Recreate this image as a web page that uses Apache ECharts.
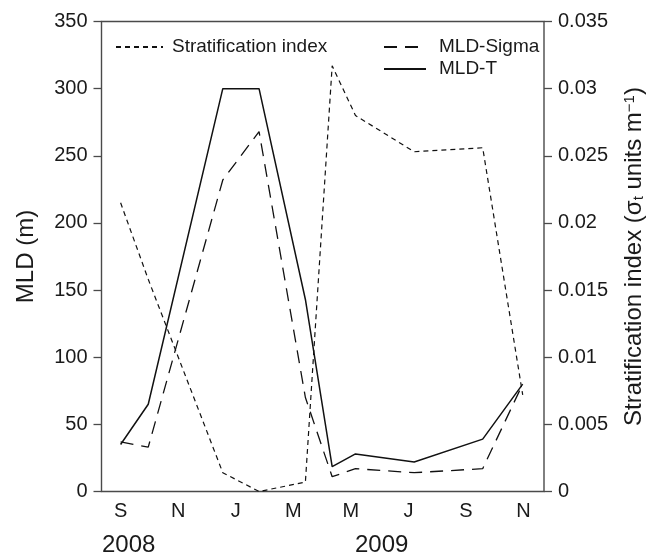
<!DOCTYPE html>
<html>
<head>
<meta charset="utf-8">
<style>
  html, body { margin: 0; padding: 0; background: #fff; }
  #chart { width: 654px; height: 557px; }
</style>
<script src="https://cdn.jsdelivr.net/npm/echarts@6/dist/echarts.min.js"></script>
</head>
<body>
<div id="chart"></div>
<script>
// Sample times in months since Jan 2008 (8 = Sep 2008, 12 = Jan 2009, ...)
const sampleMonths = [8.0, 8.96, 11.55, 12.81, 14.42, 15.35, 16.16, 18.2, 20.58, 21.97];
// Mixed layer depth (m)
const mldT     = [35, 65, 300, 300, 143, 18.5, 28, 22, 39, 80];
const mldSigma = [37, 33, 232, 268, 70, 11, 17, 14, 17, 80];
// Stratification index (sigma_t units m^-1)
const stratIndex = [0.0215, 0.0158, 0.0014, 0.0000, 0.0007, 0.0317, 0.0280, 0.0253, 0.0256, 0.0072];

// x-axis tick labels
const monthTickValues = [8, 10, 12, 14, 16, 18, 20, 22];
const monthTickLabels = ['S', 'N', 'J', 'M', 'M', 'J', 'S', 'N'];
const yearLabels = ['2008', '2009'];

const FONT = 'Liberation Sans, Arial, Helvetica, sans-serif';
const TXT = '#1a1a1a';
const AX = '#4a4a4a';

function pairs(xs, ys) { return xs.map((x, i) => [x, ys[i]]); }

const chart = echarts.init(document.getElementById('chart'), null, { renderer: 'canvas' });

const hiddenSymbol = { color: 'rgba(0,0,0,0)', borderColor: 'rgba(0,0,0,0)', borderWidth: 0, opacity: 0 };

chart.setOption({
  animation: false,
  backgroundColor: '#fff',
  textStyle: { fontFamily: FONT },
  grid: {
    left: 101.5, right: 106.5, top: 21.5, bottom: 65.5,
    show: true, borderColor: AX, borderWidth: 1.4, backgroundColor: 'transparent'
  },
  legend: [
    {
      data: ['Stratification index'],
      left: 110, top: 32,
      itemWidth: 47, itemHeight: 14,
      itemStyle: hiddenSymbol,
      textStyle: { fontSize: 19, color: TXT, fontFamily: FONT, lineHeight: 20, padding: [0, 0, 0, 4] }
    },
    {
      data: ['MLD-Sigma', 'MLD-T'],
      orient: 'vertical',
      left: 378, top: 32,
      itemWidth: 42, itemHeight: 14, itemGap: 2,
      itemStyle: hiddenSymbol,
      textStyle: { fontSize: 19, color: TXT, fontFamily: FONT, lineHeight: 20, padding: [0, 0, 0, 8] }
    }
  ],
  xAxis: {
    type: 'value',
    min: 7.336, max: 22.71,
    axisLine: { show: false },
    axisTick: { show: false },
    splitLine: { show: false },
    axisLabel: {
      customValues: monthTickValues,
      margin: 10,
      fontSize: 20, color: TXT, fontFamily: FONT,
      formatter: function (v) {
        let best = 0, bd = Infinity;
        monthTickValues.forEach((t, i) => { const d = Math.abs(t - v); if (d < bd) { bd = d; best = i; } });
        return monthTickLabels[best];
      }
    }
  },
  yAxis: [
    {
      type: 'value', position: 'left',
      min: 0, max: 350, interval: 50,
      name: 'MLD (m)', nameLocation: 'middle', nameGap: 63,
      nameTextStyle: { fontSize: 24, color: TXT, fontFamily: FONT },
      axisLine: { show: false },
      axisTick: { show: true, inside: false, length: 8, lineStyle: { color: AX, width: 1.3 } },
      splitLine: { show: false },
      axisLabel: { margin: 14, fontSize: 20, color: TXT, fontFamily: FONT }
    },
    {
      type: 'value', position: 'right',
      min: 0, max: 0.035, interval: 0.005,
      name: 'Stratification index (σ{sub|t} units m{sup|−1})',
      nameLocation: 'middle', nameGap: 78,
      nameTextStyle: {
        fontSize: 24, color: TXT, fontFamily: FONT,
        rich: {
          sub: { fontSize: 15, color: TXT, fontFamily: FONT, verticalAlign: 'bottom', lineHeight: 24 },
          sup: { fontSize: 15, color: TXT, fontFamily: FONT, verticalAlign: 'top', lineHeight: 24 }
        }
      },
      axisLine: { show: false },
      axisTick: { show: true, inside: false, length: 8, lineStyle: { color: AX, width: 1.3 } },
      splitLine: { show: false },
      axisLabel: {
        margin: 14, fontSize: 20, color: TXT, fontFamily: FONT,
        formatter: function (v) { return String(parseFloat(v.toFixed(4))); }
      }
    }
  ],
  graphic: [
    { type: 'text', left: 102, top: 533, style: { text: yearLabels[0], font: '24px ' + FONT, fill: TXT } },
    { type: 'text', left: 355, top: 533, style: { text: yearLabels[1], font: '24px ' + FONT, fill: TXT } }
  ],
  series: [
    {
      name: 'Stratification index', type: 'line', yAxisIndex: 1,
      data: pairs(sampleMonths, stratIndex),
      symbol: 'none', showSymbol: false,
      lineStyle: { color: '#111', width: 1.2, type: [5, 4] },
      itemStyle: { color: '#111' }
    },
    {
      name: 'MLD-Sigma', type: 'line', yAxisIndex: 0,
      data: pairs(sampleMonths, mldSigma),
      symbol: 'none', showSymbol: false,
      lineStyle: { color: '#111', width: 1.3, type: [13, 8] },
      itemStyle: { color: '#111' }
    },
    {
      name: 'MLD-T', type: 'line', yAxisIndex: 0,
      data: pairs(sampleMonths, mldT),
      symbol: 'none', showSymbol: false,
      lineStyle: { color: '#111', width: 1.5, type: 'solid' },
      itemStyle: { color: '#111' }
    }
  ]
});
</script>
</body>
</html>
